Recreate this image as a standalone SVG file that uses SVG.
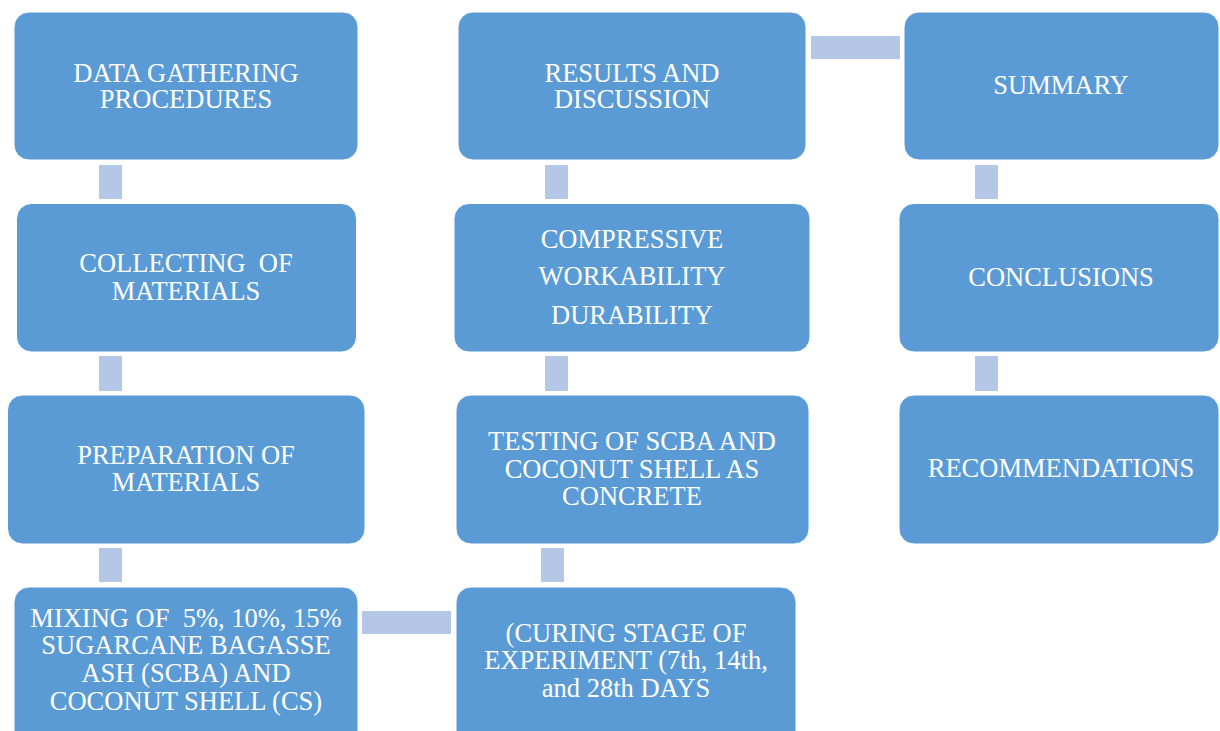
<svg xmlns="http://www.w3.org/2000/svg" width="1220" height="731" viewBox="0 0 1220 731">
<style>
.box{fill:#5b9bd5;stroke:#ffffff;stroke-width:1}
.con{fill:#b4c7e7}
.t{font-family:'Liberation Serif','Times New Roman','DejaVu Serif',serif;font-size:26.5px;fill:#ffffff;text-anchor:middle}
</style>
<rect x="0" y="0" width="1220" height="731" fill="#ffffff"/>
<g id="connectors">
<rect class="con" x="99" y="165" width="23" height="34"/>
<rect class="con" x="99" y="356" width="23" height="35"/>
<rect class="con" x="99" y="548" width="23" height="34"/>
<rect class="con" x="362" y="611" width="89" height="23"/>
<rect class="con" x="541" y="548" width="23" height="34"/>
<rect class="con" x="545" y="356" width="23" height="35"/>
<rect class="con" x="545" y="165" width="23" height="34"/>
<rect class="con" x="811" y="36" width="89" height="23"/>
<rect class="con" x="975" y="165" width="23" height="34"/>
<rect class="con" x="975" y="356" width="23" height="35"/>
</g>
<g id="n1">
<rect class="box" x="14" y="12" width="344" height="148" rx="15"/>
<text class="t" x="186" y="81.7">DATA GATHERING</text>
<text class="t" x="186" y="108.3">PROCEDURES</text>
</g>
<g id="n2">
<rect class="box" x="16.5" y="203.5" width="340" height="148.5" rx="15"/>
<text class="t" x="186" y="272.3" xml:space="preserve">COLLECTING  OF</text>
<text class="t" x="186" y="300">MATERIALS</text>
</g>
<g id="n3">
<rect class="box" x="7.5" y="395" width="357.5" height="149" rx="15"/>
<text class="t" x="186" y="464.3">PREPARATION OF</text>
<text class="t" x="186" y="491">MATERIALS</text>
</g>
<g id="n4">
<rect class="box" x="14" y="587" width="344" height="160" rx="15"/>
<text class="t" x="186" y="626.7" xml:space="preserve">MIXING OF  5%, 10%, 15%</text>
<text class="t" x="186" y="654">SUGARCANE BAGASSE</text>
<text class="t" x="186" y="681.7">ASH (SCBA) AND</text>
<text class="t" x="186" y="710">COCONUT SHELL (CS)</text>
</g>
<g id="n5">
<rect class="box" x="456" y="587" width="340" height="160" rx="15"/>
<text class="t" x="626" y="641.7">(CURING STAGE OF</text>
<text class="t" x="626" y="669">EXPERIMENT (7th, 14th,</text>
<text class="t" x="626" y="696.7">and 28th DAYS</text>
</g>
<g id="n6">
<rect class="box" x="456" y="395" width="353" height="149" rx="15"/>
<text class="t" x="632" y="450">TESTING OF SCBA AND</text>
<text class="t" x="632" y="477.7">COCONUT SHELL AS</text>
<text class="t" x="632" y="505">CONCRETE</text>
</g>
<g id="n7">
<rect class="box" x="454" y="203.5" width="356" height="148.5" rx="15"/>
<text class="t" x="632" y="247.7">COMPRESSIVE</text>
<text class="t" x="632" y="285.3">WORKABILITY</text>
<text class="t" x="632" y="324">DURABILITY</text>
</g>
<g id="n8">
<rect class="box" x="458" y="12" width="348" height="148" rx="15"/>
<text class="t" x="632" y="81.7">RESULTS AND</text>
<text class="t" x="632" y="108.3">DISCUSSION</text>
</g>
<g id="n9">
<rect class="box" x="904" y="12" width="315" height="148" rx="15"/>
<text class="t" x="1061" y="94.3">SUMMARY</text>
</g>
<g id="n10">
<rect class="box" x="899" y="203.5" width="320" height="148.5" rx="15"/>
<text class="t" x="1061" y="285.7">CONCLUSIONS</text>
</g>
<g id="n11">
<rect class="box" x="899" y="395" width="320" height="149" rx="15"/>
<text class="t" x="1061" y="477.3">RECOMMENDATIONS</text>
</g>
</svg>
